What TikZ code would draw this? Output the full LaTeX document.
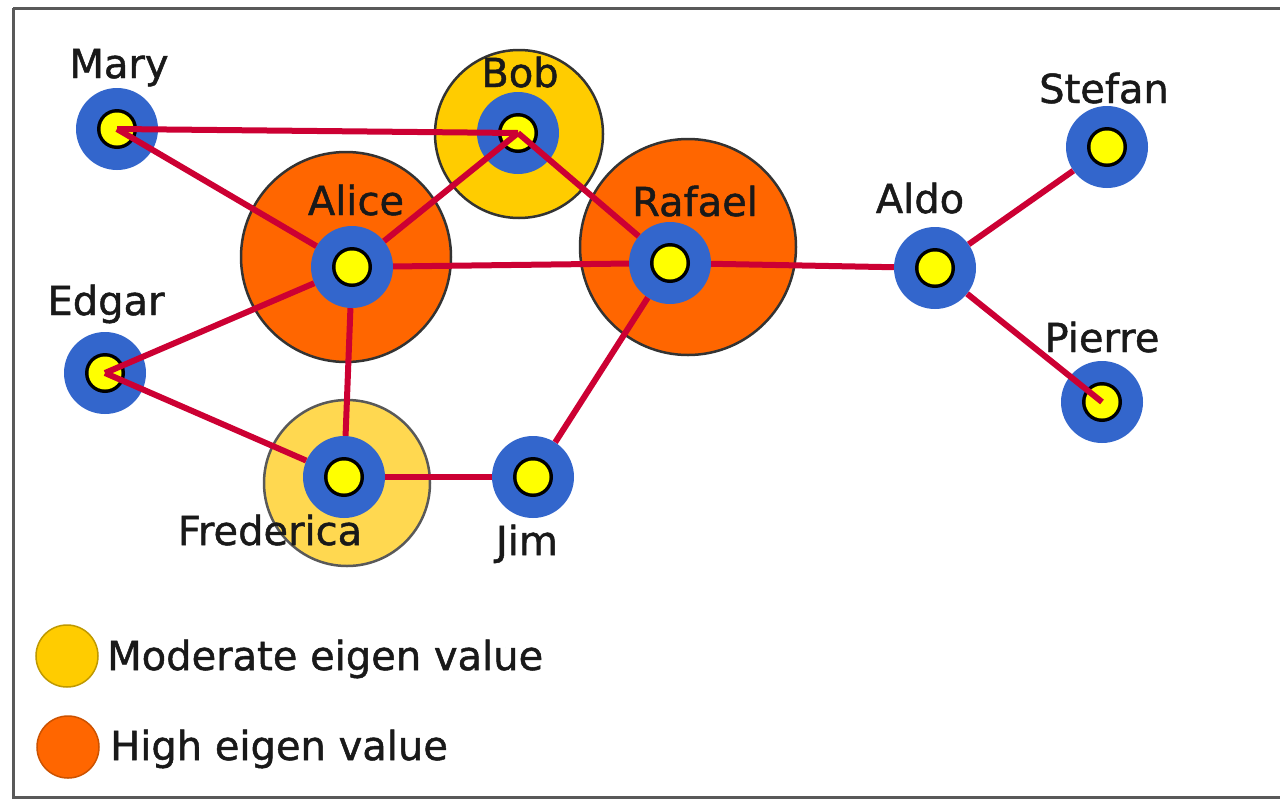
\documentclass[tikz,border=0pt]{standalone}
\usepackage{fontspec}
\setmainfont{DejaVu Sans}[FakeBold=1.2]
\definecolor{nblue}{HTML}{3366CC}
\definecolor{nyellow}{HTML}{FFFF00}
\definecolor{ered}{HTML}{CC0033}
\definecolor{high}{HTML}{FF6600}
\definecolor{moderate}{HTML}{FFCC00}
\definecolor{lightmod}{HTML}{FFD850}
\begin{document}
\begin{tikzpicture}[x=1pt,y=-1pt,
  person/.style={circle, fill=nblue, minimum size=82pt, inner sep=0pt,
    path picture={\fill[black] (path picture bounding box.center) circle[radius=20pt];
                  \fill[nyellow] (path picture bounding box.center) circle[radius=16.5pt];}},
  lbl/.style={anchor=base, inner sep=0pt, font=\fontsize{40}{48}\selectfont, text=black!90},
  legtext/.style={anchor=base west, inner sep=0pt, font=\fontsize{40}{48}\selectfont, text=black!90},
  link/.style={draw=ered, line width=6pt},
  eigen/.style={circle, draw=black!80, line width=2.5pt, inner sep=0pt}
]
\useasboundingbox (0,0) rectangle (1280,801);
\fill[white] (0,0) rectangle (1280,801);
\draw[black!65, line width=3pt] (13,8) -- (1290,8) (13,8) -- (13,797) -- (1290,797);

% eigenvalue discs
\node[eigen, fill=moderate, minimum size=168pt] (bobE) at (519,134) {};
\node[eigen, fill=high, minimum size=210pt] (aliceE) at (346,257) {};
\node[eigen, fill=high, minimum size=216pt] (rafaelE) at (688,247) {};
\node[eigen, fill=lightmod, draw=black!65, minimum size=166pt] (fredE) at (347,483) {};

% people
\node[person] (mary) at (117,129) {};
\node[person] (bob) at (518,133) {};
\node[person] (alice) at (352,267) {};
\node[person] (rafael) at (670,263) {};
\node[person] (aldo) at (935,268) {};
\node[person] (stefan) at (1107,147) {};
\node[person] (pierre) at (1102,402) {};
\node[person] (edgar) at (105,373) {};
\node[person] (frederica) at (344,477) {};
\node[person] (jim) at (533,477) {};

% links
\draw[link] (mary.center) -- (bob.center);
\draw[link] (mary.center) -- (alice);
\draw[link] (bob.center) -- (alice);
\draw[link] (bob.center) -- (rafael);
\draw[link] (alice) -- (rafael);
\draw[link] (rafael) -- (aldo);
\draw[link] (aldo) -- (stefan);
\draw[link] (aldo) -- (pierre.center);
\draw[link] (edgar.center) -- (alice);
\draw[link] (edgar.center) -- (frederica);
\draw[link] (alice) -- (frederica);
\draw[link] (frederica) -- (jim);
\draw[link] (jim) -- (rafael);

% labels
\node[lbl] (lmary) at (119,78) {Mary};
\node[lbl] (lbob) at (520,87) {Bob};
\node[lbl] (lalice) at (356,215) {Alice};
\node[lbl] (lrafael) at (695,216) {Rafael};
\node[lbl] (laldo) at (920,213) {Aldo};
\node[lbl] (lstefan) at (1104,103) {Stefan};
\node[lbl] (lpierre) at (1102,352) {Pierre};
\node[lbl] (ledgar) at (106,315) {Edgar};
\node[lbl] (lfred) at (270,545) {Frederica};
\node[lbl] (ljim) at (527,555) {Jim};

% legend
\node[circle, fill=moderate, draw=moderate!75!black, line width=1.5pt, minimum size=62pt, inner sep=0pt] (legmod) at (67,656) {};
\node[circle, fill=high, draw=high!80!black, line width=1.5pt, minimum size=62pt, inner sep=0pt] (leghigh) at (68,747) {};
\node[legtext] (tmod) at (107,670) {Moderate eigen value};
\node[legtext] (thigh) at (110,760) {High eigen value};
\end{tikzpicture}
\end{document}
